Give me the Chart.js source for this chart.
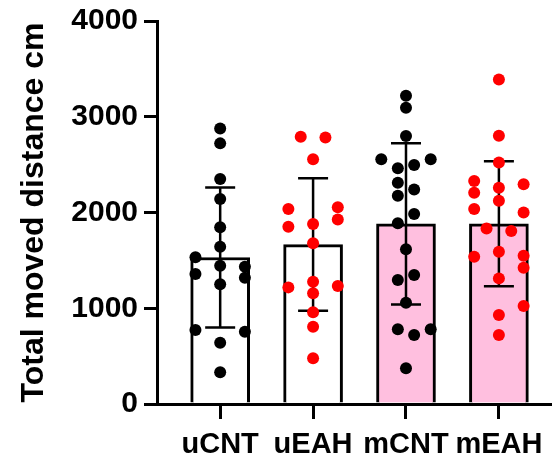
<!DOCTYPE html>
<html>
<head>
<meta charset="utf-8">
<script src="https://cdn.jsdelivr.net/npm/chart.js@4/dist/chart.umd.min.js"></script>
<style>
  html, body { margin: 0; padding: 0; background: #fff; }
  #wrap { width: 556px; height: 456px; position: relative; }
</style>
</head>
<body>
<div id="wrap"><canvas id="distanceChart"></canvas></div>
<script>
// Total moved distance per group (mean +/- SD, individual animals)
const categories = ['uCNT', 'uEAH', 'mCNT', 'mEAH'];
const means = [1530, 1665, 1882, 1882];
const sds = [731, 692, 842, 652];
const yTicks = [0, 1000, 2000, 3000, 4000];

const uCNT = [2878, 2722, 2349, 2140, 1845, 1642, 1444, 1250, 640, 331, 1532, 1357, 773, 1434, 1319, 755];
const uEAH = [2036, 1851, 1218, 2555, 1879, 1678, 1277, 1156, 957, 807, 477, 2054, 1928, 1232, 2791, 2784];
const mCNT = [3219, 3093, 2798, 1615, 1058, 373, 2461, 2311, 2175, 1887, 1295, 780, 2555, 2495, 2241, 1984, 1347, 720, 2555, 780];
const mEAH = [3390, 2801, 2523, 2258, 2122, 1590, 1312, 929, 720, 2328, 2206, 2036, 1538, 1834, 1806, 2294, 2001, 1548, 1423, 1023];

// horizontal scatter slots (1 = one column step)
const uCNTJitter = [0, 0, 0, 0, 0, 0, 0, 0, 0, 0, -1, -1, -1, 1, 1, 1];
const uEAHJitter = [-1, -1, -1, 0, 0, 0, 0, 0, 0, 0, 0, 1, 1, 1, -0.5, 0.5];
const mCNTJitter = [0, 0, 0, 0, 0, 0, -0.33, -0.33, -0.33, -0.33, -0.33, -0.33, -1, 0.33, 0.33, 0.33, 0.33, 0.33, 1, 1];
const mEAHJitter = [0, 0, 0, 0, 0, 0, 0, 0, 0, -1, -1, -1, -1, -0.5, 0.5, 1, 1, 1, 1, 1];

const groups = [uCNT, uEAH, mCNT, mEAH];
const jitters = [uCNTJitter, uEAHJitter, mCNTJitter, mEAHJitter];
const barColors = ['#ffffff', '#ffffff', '#ffbfdf', '#ffbfdf'];
const dotColors = ['#000000', '#ff0000', '#000000', '#ff0000'];
const STEP = 0.266;

const points = [];
const pointColors = [];
groups.forEach((vals, g) => {
  vals.forEach((v, k) => {
    points.push({ x: g + jitters[g][k] * STEP, y: v });
    pointColors.push(dotColors[g]);
  });
});

const FONT = "'Liberation Sans', Arial, sans-serif";

// mean +/- SD whiskers, drawn right after the bars so the dots sit on top
const errorBars = {
  id: 'errorBars',
  afterDatasetDraw(chart, args) {
    if (args.index !== 0) return;
    const { ctx, scales: { x, y } } = chart;
    ctx.save();
    ctx.strokeStyle = '#000';
    ctx.lineWidth = 2.5;
    means.forEach((m, i) => {
      const px = x.getPixelForValue(i);
      const top = y.getPixelForValue(m + sds[i]);
      const bot = y.getPixelForValue(m - sds[i]);
      ctx.beginPath();
      ctx.moveTo(px, top);
      ctx.lineTo(px, bot);
      ctx.moveTo(px - 15, top);
      ctx.lineTo(px + 15, top);
      ctx.moveTo(px - 15, bot);
      ctx.lineTo(px + 15, bot);
      ctx.stroke();
    });
    ctx.restore();
  }
};

new Chart(document.getElementById('distanceChart'), {
  type: 'bar',
  data: {
    datasets: [{
      type: 'bar',
      data: categories.map((c, i) => ({ x: i, y: means[i] })),
      backgroundColor: barColors,
      borderColor: '#000',
      borderWidth: 3,
      barThickness: 59,
      order: 2
    }, {
      type: 'scatter',
      data: points,
      pointRadius: 6,
      pointBackgroundColor: pointColors,
      pointBorderWidth: 0,
      showLine: false,
      order: 1
    }]
  },
  options: {
    responsive: true,
    maintainAspectRatio: false,
    animation: false,
    layout: { padding: { top: 21, right: 0, bottom: 0, left: 0 } },
    plugins: {
      legend: { display: false },
      tooltip: { enabled: false }
    },
    scales: {
      x: {
        type: 'linear',
        position: 'bottom',
        offset: false,
        min: -0.68,
        max: 3.55,
        bounds: 'data',
        afterBuildTicks: (scale) => {
          scale.ticks = categories.map((c, i) => ({ value: i }));
        },
        afterFit: (scale) => { scale.height = 52; },
        ticks: {
          autoSkip: false,
          maxRotation: 0,
          padding: 9,
          color: '#000',
          font: { family: FONT, size: 29, weight: 'bold' },
          callback: (v) => categories[v]
        },
        grid: { display: true, offset: false, drawOnChartArea: false, drawTicks: true, tickLength: 15, lineWidth: 3, color: '#000' },
        border: { display: true, color: '#000', width: 3 }
      },
      y: {
        min: 0,
        max: 4000,
        afterBuildTicks: (scale) => {
          scale.ticks = yTicks.map(v => ({ value: v }));
        },
        afterFit: (scale) => { scale.width = 157; },
        ticks: {
          padding: 6,
          color: '#000',
          font: { family: FONT, size: 30, weight: 'bold', lineHeight: 1 },
          callback: (v) => String(v)
        },
        title: {
          display: true,
          text: 'Total moved distance cm',
          color: '#000',
          font: { family: FONT, size: 32, weight: 'bold' },
          padding: { top: 15, bottom: 0 }
        },
        grid: { display: true, drawOnChartArea: false, drawTicks: true, tickLength: 13, lineWidth: 3, color: '#000' },
        border: { display: true, color: '#000', width: 3 }
      }
    }
  },
  plugins: [errorBars]
});
</script>
</body>
</html>
